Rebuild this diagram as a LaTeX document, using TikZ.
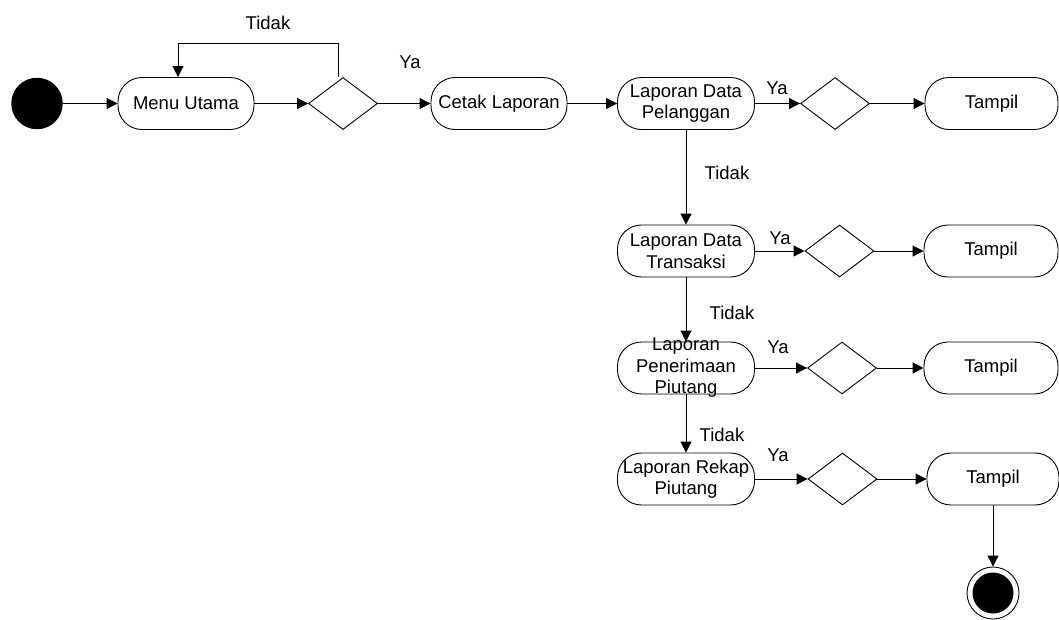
\documentclass[tikz,border=0pt]{standalone}
\usepackage{fontspec}
\setmainfont{Liberation Sans}
\usetikzlibrary{shapes.geometric,arrows.meta}
\begin{document}
\begin{tikzpicture}[x=1pt,y=-1pt,
  every node/.style={font=\fontsize{18.5}{21.5}\selectfont},
  actbox/.style={draw,line width=0.9pt,rectangle,rounded corners=24pt,minimum height=52pt,inner sep=1pt,align=center},
  decis/.style={draw,line width=0.9pt,diamond,minimum width=69pt,minimum height=52pt,inner sep=0pt},
  arr/.style={line width=0.9pt,-{Triangle[length=11pt,width=11pt]}},
  lbl/.style={inner sep=0pt}]
\useasboundingbox (0,0) rectangle (1059,619);
\node[circle,fill=black,minimum size=51.5pt,inner sep=0pt] (start) at (37,103.5) {};
\node[actbox,minimum width=136pt] (mu) at (186,103.5) {Menu Utama};
\node[decis] (d1) at (343,103.5) {};
\node[actbox,minimum width=136pt] (cl) at (499,103.5) {Cetak Laporan};
\node[actbox,minimum width=137pt] (ldp) at (686,103.5) {Laporan Data\\Pelanggan};
\node[decis] (d2) at (835,103.5) {};
\node[actbox,minimum width=133pt] (t1) at (991.5,103.5) {Tampil};
\node[actbox,minimum width=137pt] (ldt) at (686,251) {Laporan Data\\Transaksi};
\node[decis] (d3) at (839.5,251) {};
\node[actbox,minimum width=134pt] (t2) at (991,251) {Tampil};
\node[actbox,minimum width=137pt,text height=0pt,text depth=0pt] (lpp) at (686,368) {};
\node[align=center,inner sep=0pt] (lpptext) at (686,368) {Laporan\\Penerimaan\\Piutang};
\node[decis] (d4) at (842,368) {};
\node[actbox,minimum width=134pt] (t3) at (991,368) {Tampil};
\node[actbox,minimum width=137pt,text height=0pt,text depth=0pt] (lrp) at (686,479) {};
\node[align=center,inner sep=0pt] (lrptext) at (686,479) {Laporan Rekap\\Piutang};
\node[decis] (d5) at (842.5,479) {};
\node[actbox,minimum width=132pt] (t4) at (993,479) {Tampil};
\node[circle,draw,line width=0.9pt,minimum size=52pt,inner sep=0pt] (end) at (993,593) {};
\fill (end.center) circle (20.5pt);

\draw[arr] (start) -- (mu);
\draw[arr] (mu) -- (d1);
\draw[arr] ([xshift=-5pt]d1.north) -- ++(0,-34) -| ([xshift=-8pt]mu.north);
\draw[arr] (d1) -- (cl);
\draw[arr] (cl) -- (ldp);
\draw[arr] (ldp) -- (d2);
\draw[arr] (d2) -- (t1);
\draw[arr] (ldp) -- (ldt);
\draw[arr] (ldt) -- (d3);
\draw[arr] (d3) -- (t2);
\draw[arr] (ldt) -- (lpp);
\draw[arr] (lpp) -- (d4);
\draw[arr] (d4) -- (t3);
\draw[arr] (lpp) -- (lrp);
\draw[arr] (lrp) -- (d5);
\draw[arr] (d5) -- (t4);
\draw[arr] (t4) -- (end);

\node[lbl] (l1) at (268,23) {Tidak};
\node[lbl] (l2) at (410,62) {Ya};
\node[lbl] (l3) at (777,88) {Ya};
\node[lbl] (l4) at (727,173) {Tidak};
\node[lbl] (l5) at (780,238) {Ya};
\node[lbl] (l6) at (732,313) {Tidak};
\node[lbl] (l7) at (778,347) {Ya};
\node[lbl] (l8) at (722,435) {Tidak};
\node[lbl] (l9) at (778,455) {Ya};
\end{tikzpicture}
\end{document}
